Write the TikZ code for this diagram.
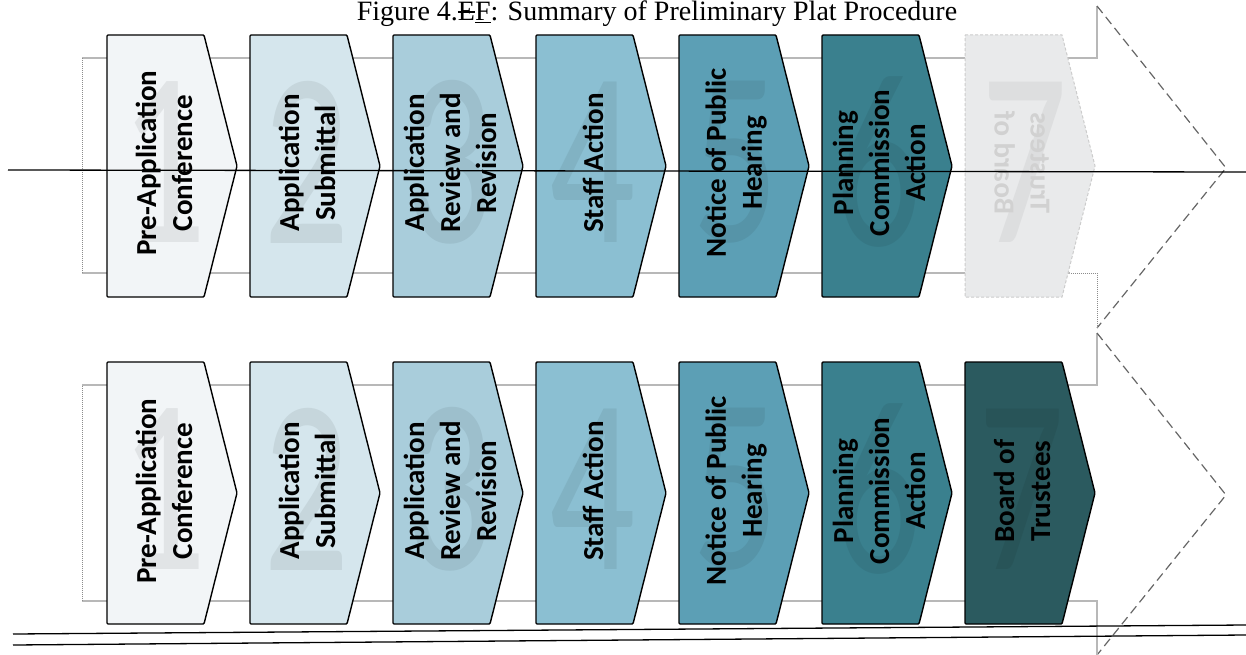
\documentclass[tikz,border=0pt]{standalone}
\usepackage{fontspec}
\setmainfont{Liberation Serif}
\newfontfamily\stepfont{Carlito}
\usetikzlibrary{calc}
\definecolor{stepA}{HTML}{F2F5F7}
\definecolor{stepB}{HTML}{D5E6ED}
\definecolor{stepC}{HTML}{A9CDDB}
\definecolor{stepD}{HTML}{8BBFD2}
\definecolor{stepE}{HTML}{5C9FB5}
\definecolor{stepF}{HTML}{3A808E}
\definecolor{stepG}{HTML}{2B5A5F}
\definecolor{faded}{HTML}{E9EAEB}
\newcommand{\struck}[1]{\sbox0{#1}\rlap{\raisebox{0.3em}{\rule{\wd0}{0.05em}}}#1}
\tikzstyle{chevron}=[draw=black,line width=1.4pt,rounded corners=1pt,line join=round]
\tikzstyle{fadedchevron}=[draw=black!20,line width=1pt,densely dashed,fill=faded]
\tikzstyle{steplabel}=[rotate=90,align=center,inner sep=0pt,font=\stepfont\bfseries\fontsize{29}{36}\selectfont]
\tikzstyle{ghostnum}=[inner sep=0pt,xscale=0.68,font=\stepfont\fontsize{250}{250}\selectfont]
\tikzstyle{band}=[draw=black!28,line width=1.3pt]
\tikzstyle{bandend}=[draw=black!45,line width=1pt,densely dotted]
\tikzstyle{headline}=[draw=black!60,line width=1.2pt,dash pattern=on 9pt off 5pt]
\tikzstyle{strike}=[draw=black,line width=1.3pt]

\begin{document}
\begin{tikzpicture}[x=1pt,y=-1pt]
    \useasboundingbox (0,0) rectangle (1246,655);
    \clip (0,0) rectangle (1246,655);

    % background arrows
    \draw[band] (82,58) -- (1097,58) -- (1097,6);
    \draw[headline] (1097,6) -- (1226,168) -- (1097,328);
    \draw[bandend] (1097,328) -- (1097,273) -- (1070,273);
    \draw[band] (1070,273) -- (82,273);
    \draw[bandend] (82,273) -- (82,58);

    \draw[band] (82,385) -- (1097,385) -- (1097,333);
    \draw[headline] (1097,333) -- (1226,495) -- (1097,655);
    \draw[band] (1097,655) -- (1097,601) -- (82,601);
    \draw[bandend] (82,601) -- (82,385);

    % first version (struck out)
    \foreach \i/\name/\shade/\lbl in {1/pre/stepA/{Pre-Application\\Conference}, 2/submit/stepB/{Application\\Submittal}, 3/review/stepC/{Application\\Review and\\Revision}, 4/staff/stepD/{Staff Action}, 5/notice/stepE/{Notice of Public\\Hearing}, 6/planning/stepF/{Planning\\Commission\\Action}}
    {
        \pgfmathsetmacro\L{107+143*(\i-1)}
        \draw[chevron,fill=\shade] (\L,35) -- (\L+97,35) -- (\L+130,166) -- (\L+97,297) -- (\L,297) -- cycle;
        \node[ghostnum,text=\shade!93!black] (tnum\i) at (\L+57,162) {\i};
        \node[steplabel] (t\name) at (\L+57,163) {\lbl};
    }
    \draw[fadedchevron] (965,35) -- (1062,35) -- (1095,166) -- (1062,297) -- (965,297) -- cycle;
    \node[ghostnum,text=faded!95!black] (tnum7) at (1025,162) {7};
    \node[steplabel,yscale=-1,text=black!18] (tboard) at (1022,163) {Trustees\\Board of};

    % second version (inserted)
    \foreach \i/\name/\shade/\lbl in {1/pre/stepA/{Pre-Application\\Conference}, 2/submit/stepB/{Application\\Submittal}, 3/review/stepC/{Application\\Review and\\Revision}, 4/staff/stepD/{Staff Action}, 5/notice/stepE/{Notice of Public\\Hearing}, 6/planning/stepF/{Planning\\Commission\\Action}, 7/board/stepG/{Board of\\Trustees}}
    {
        \pgfmathsetmacro\L{107+143*(\i-1)}
        \draw[chevron,fill=\shade] (\L,362) -- (\L+97,362) -- (\L+130,493) -- (\L+97,624) -- (\L,624) -- cycle;
        \node[ghostnum,text=\shade!93!black] (bnum\i) at (\L+57,489) {\i};
        \node[steplabel] (b\name) at (\L+57,491) {\lbl};
    }

    % title and revision marks
    \node[anchor=base,inner sep=0pt,font=\fontsize{28}{34}\selectfont] (title) at (657,21) {Figure 4.\struck{E}\underline{F}: Summary of Preliminary Plat Procedure};
    \draw[strike] (8,170) -- (1246,172);
    \draw[strike] (13,634) -- (1246,625);
    \draw[strike] (13,645) -- (1246,635);
\end{tikzpicture}
\end{document}
